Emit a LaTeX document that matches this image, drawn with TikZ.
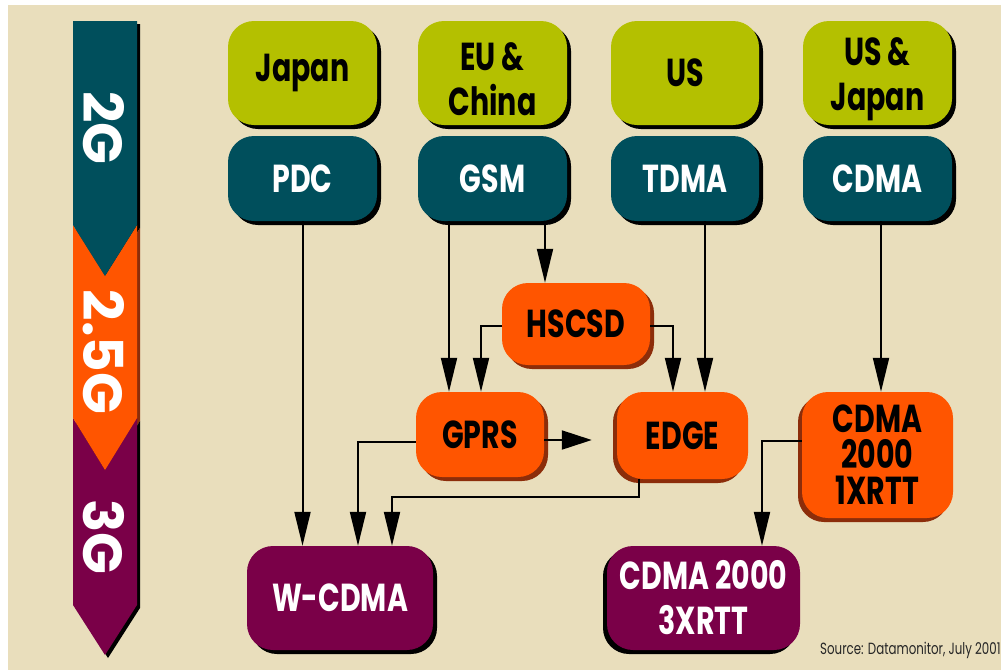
\documentclass[tikz,border=0pt]{standalone}
\usepackage{fontspec}
\newfontfamily\ffb{Poppins}[FakeStretch=0.73]
\newfontfamily\ffw{Poppins}
\usetikzlibrary{arrows.meta,shadows,calc}
\definecolor{bgbeige}{RGB}{233,222,188}
\definecolor{olive}{RGB}{180,192,0}
\definecolor{teal2}{RGB}{0,79,92}
\definecolor{orng}{RGB}{255,85,0}
\definecolor{brwn}{RGB}{140,45,10}
\definecolor{purp}{RGB}{122,0,72}
\newcommand\bxfont{\ffb\bfseries\fontsize{39}{45}\selectfont}
\newcommand\bxfontt{\ffb\bfseries\fontsize{39}{36}\selectfont}
\newcommand\barfont{\ffw\bfseries\fontsize{55}{60}\selectfont}
\tikzset{
  box/.style={rectangle, rounded corners=26pt, inner sep=0pt, align=center, font=\bxfont},
  shR/.style={copy shadow={shadow xshift=4pt, shadow yshift=-4pt, fill=#1, draw=none}},
  shL/.style={copy shadow={shadow xshift=-4pt, shadow yshift=-4pt, fill=#1, draw=none}},
  region/.style={box, fill=olive, text=black, shR=black},
  tech/.style={box, fill=teal2, text=white, shR=black},
  midR/.style={box, fill=orng, text=black, shR=brwn},
  midL/.style={box, fill=orng, text=black, shL=brwn},
  third/.style={box, fill=purp, text=white},
  twoline/.style={font=\bxfont, align=center, inner sep=0pt, yshift=-6pt},
  arr/.style={line width=2pt, -{Triangle[length=34pt,width=16pt]}},
  bartext/.style={rotate=-90, text=white, font=\barfont, inner sep=0pt}
}
\begin{document}
\begin{tikzpicture}[x=1pt,y=-1pt]
\useasboundingbox (0,0) rectangle (1001,670);
\fill[white] (0,0) rectangle (1001,670);
\fill[bgbeige] (8,5) rectangle (1001,670);
% generation bar shadows
\fill[black] (76,24) -- (140,24) -- (140,228) -- (108,279) -- (76,228) -- cycle;
\fill[brwn] (76,228) -- (108,279) -- (140,228) -- (140,421) -- (108,473) -- (76,421) -- cycle;
\fill[black] (76,421) -- (108,473) -- (140,421) -- (140,608) -- (108,658) -- (76,608) -- cycle;
% generation bar
\fill[purp] (73,418) -- (105,470) -- (137,418) -- (137,605) -- (105,655) -- (73,605) -- cycle;
\fill[orng] (73,225) -- (105,276) -- (137,225) -- (137,418) -- (105,470) -- (73,418) -- cycle;
\fill[teal2] (73,21) -- (137,21) -- (137,225) -- (105,276) -- (73,225) -- cycle;
\node[bartext] (g2) at (104,128) {2G};
\node[bartext] (g25) at (104,352) {2.5G};
\node[bartext] (g3) at (104,537) {3G};
% boxes
\node[region, minimum width=149pt, minimum height=104pt] (japan) at (302.5,73) {Japan};
\node[region, minimum width=149pt, minimum height=104pt,
  label={[twoline, name=eut]center:EU \&\\China}] (eu) at (492.5,73) {};
\node[region, minimum width=148pt, minimum height=104pt] (us) at (685,73) {US};
\node[region, minimum width=149pt, minimum height=104pt,
  label={[twoline, name=usjt]center:US \&\\Japan}] (usj) at (877.5,73) {};
\node[tech, minimum width=149pt, minimum height=85pt] (pdc) at (302.5,178.5) {PDC};
\node[tech, minimum width=149pt, minimum height=85pt] (gsm) at (492.5,178.5) {GSM};
\node[tech, minimum width=148pt, minimum height=85pt] (tdma) at (685,178.5) {TDMA};
\node[tech, minimum width=149pt, minimum height=85pt] (cdma) at (877.5,178.5) {CDMA};
\node[midR, minimum width=148pt, minimum height=82pt] (hscsd) at (576,324) {HSCSD};
\node[midR, minimum width=128pt, minimum height=85pt] (gprs) at (480,434.5) {GPRS};
\node[midL, minimum width=131pt, minimum height=87pt] (edge) at (682.5,435.5) {EDGE};
\node[midL, minimum width=151pt, minimum height=126pt, font=\bxfontt] (cx1) at (877.5,455) {CDMA\\2000\\1XRTT};
\node[third, shR=black, minimum width=186pt, minimum height=104pt] (wcdma) at (340,598) {W-CDMA};
\node[third, shL=black, minimum width=193pt, minimum height=104pt] (cx3) at (703.5,598) {CDMA 2000\\3XRTT};
% connectors
\draw[arr] (pdc.south) -- (pdc.south |- wcdma.north);
\draw[arr] ([xshift=-43.5pt]gsm.south) coordinate (gs1) -- (gs1 |- gprs.north);
\draw[arr] ([xshift=52.5pt]gsm.south) coordinate (gs2) -- (gs2 |- hscsd.north);
\draw[arr] ([yshift=-2pt]hscsd.west) -| ([xshift=1pt]gprs.north);
\draw[arr] ([yshift=-2pt]hscsd.east) -| ([xshift=-9.5pt]edge.north);
\draw[arr] ([xshift=20pt]tdma.south) coordinate (td) -- (td |- edge.north);
\draw[arr] ([xshift=3.5pt]cdma.south) coordinate (cd) -- (cd |- cx1.north);
\draw[arr] ([yshift=14pt]cx1.west) -| ([xshift=58.5pt]cx3.north);
\draw[arr] ([yshift=-7.5pt]gprs.west) -| ([xshift=18pt]wcdma.north);
\draw[arr] ([xshift=-43.5pt]edge.south) -- ++(0,18) -| ([xshift=52pt]wcdma.north);
\draw[line width=2pt, -{Triangle[length=30pt,width=19pt]}, shorten >=25pt] ([yshift=-5.5pt]gprs.east) coordinate (ge) -- (ge -| edge.west);
% source
\node[anchor=base west, inner sep=0pt, font=\ffb\fontsize{16.2}{18}\selectfont, text=black!85] (src) at (820,654) {Source: Datamonitor, July 2001};
\end{tikzpicture}
\end{document}
